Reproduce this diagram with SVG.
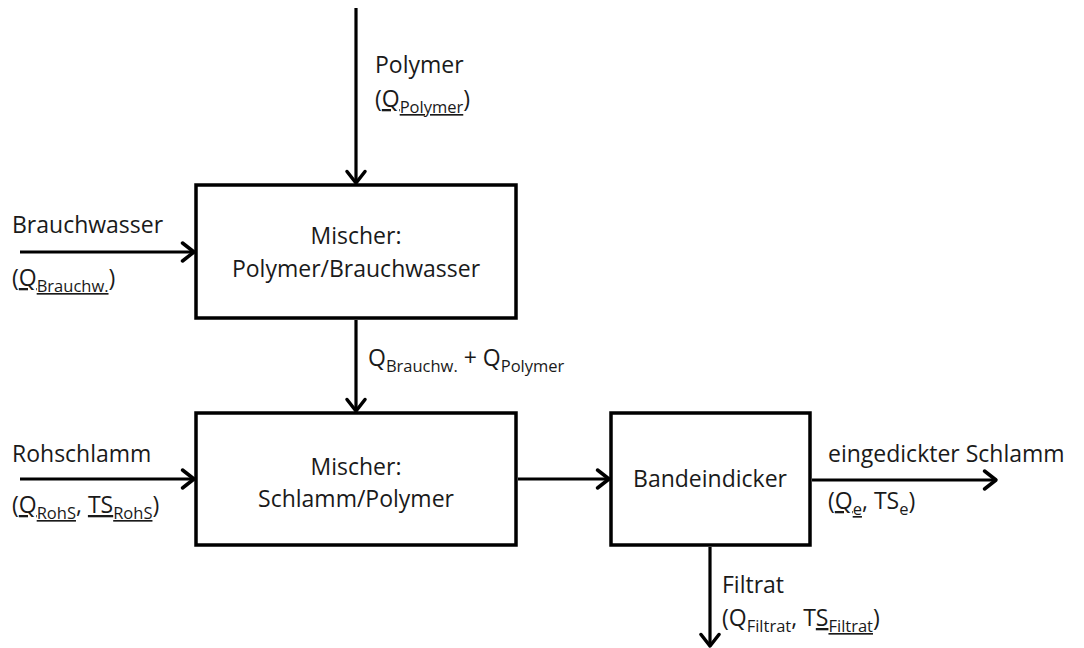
<svg xmlns="http://www.w3.org/2000/svg" width="1084" height="648" viewBox="0 0 1084 648">
  <style>
    .box { fill: #ffffff; stroke: #000000; stroke-width: 3.5; }
    .flow { stroke: #000000; stroke-width: 3.2; fill: none; marker-end: url(#head); }
    text { font-family: "Open Sans", "Liberation Sans", sans-serif; font-size: 23px; fill: #1a1a1a; }
    .c { text-anchor: middle; }
    .sub { font-size: 16.5px; }
    .u { text-decoration: underline; }
  </style>
  <defs>
    <marker id="head" markerUnits="userSpaceOnUse" markerWidth="26" markerHeight="26" viewBox="-14 -13 16 26" refX="0" refY="0" orient="auto">
      <path d="M-11.5,-9 L0,0 L-11.5,9" fill="none" stroke="#000000" stroke-width="3.5" stroke-linecap="round" stroke-linejoin="round"/>
    </marker>
  </defs>

  <!-- process blocks -->
  <g id="mixer-polymer">
    <rect class="box" x="196" y="185" width="320" height="133"/>
    <text class="c" x="356" y="244">Mischer:</text>
    <text class="c" x="356" y="277">Polymer/Brauchwasser</text>
  </g>
  <g id="mixer-sludge">
    <rect class="box" x="196" y="413" width="320" height="132"/>
    <text class="c" x="356" y="475">Mischer:</text>
    <text class="c" x="356" y="507">Schlamm/Polymer</text>
  </g>
  <g id="thickener">
    <rect class="box" x="611" y="413" width="199" height="132"/>
    <text class="c" x="710" y="487">Bandeindicker</text>
  </g>

  <!-- flows -->
  <g id="connectors">
    <line class="flow" x1="356" y1="8" x2="356" y2="183"/>
    <line class="flow" x1="20" y1="252" x2="194" y2="252"/>
    <line class="flow" x1="356" y1="320" x2="356" y2="411"/>
    <line class="flow" x1="20" y1="479" x2="194" y2="479"/>
    <line class="flow" x1="518" y1="479" x2="609" y2="479"/>
    <line class="flow" x1="812" y1="480" x2="996" y2="480"/>
    <line class="flow" x1="710" y1="547" x2="710" y2="646"/>
  </g>

  <!-- stream labels -->
  <g id="label-polymer">
    <text x="375" y="73">Polymer</text>
    <text x="375" y="107">(<tspan class="u">Q<tspan class="sub" dy="6">Polymer</tspan></tspan><tspan dy="-6">)</tspan></text>
  </g>
  <g id="label-brauchwasser">
    <text x="12" y="233">Brauchwasser</text>
    <text x="12" y="286">(<tspan class="u">Q<tspan class="sub" dy="6">Brauchw.</tspan></tspan><tspan dy="-6">)</tspan></text>
  </g>
  <g id="label-mix">
    <text x="368" y="366">Q<tspan class="sub" dy="6">Brauchw.</tspan><tspan dy="-6"> + Q</tspan><tspan class="sub" dy="6">Polymer</tspan></text>
  </g>
  <g id="label-rohschlamm">
    <text x="12" y="462">Rohschlamm</text>
    <text x="12" y="513">(<tspan class="u">Q<tspan class="sub" dy="6">RohS</tspan></tspan><tspan dy="-6">, </tspan><tspan class="u">TS<tspan class="sub" dy="6">RohS</tspan></tspan><tspan dy="-6">)</tspan></text>
  </g>
  <g id="label-output">
    <text x="828" y="462">eingedickter Schlamm</text>
    <text x="828" y="509">(<tspan class="u">Q<tspan class="sub" dy="6">e</tspan></tspan><tspan dy="-6">, TS</tspan><tspan class="sub" dy="6">e</tspan><tspan dy="-6">)</tspan></text>
  </g>
  <g id="label-filtrat">
    <text x="722" y="593">Filtrat</text>
    <text x="722" y="626">(Q<tspan class="sub" dy="6">Filtrat</tspan><tspan dy="-6">, T</tspan><tspan class="u">S<tspan class="sub" dy="6">Filtrat</tspan></tspan><tspan dy="-6">)</tspan></text>
  </g>
</svg>
